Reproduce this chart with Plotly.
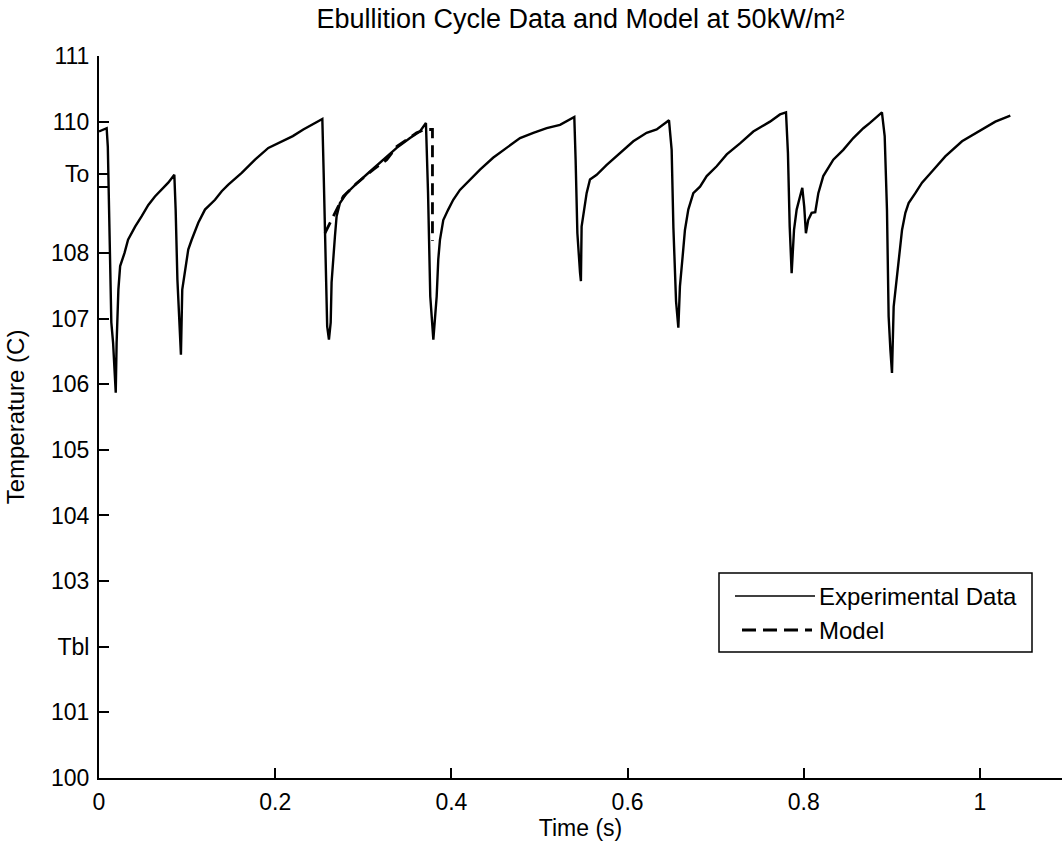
import plotly.graph_objects as go

# ---------------- data ----------------
exp_time = [0.000, 0.0087, 0.0100, 0.0120, 0.0140, 0.0160, 0.0180, 0.0190, 0.0200, 0.0220,
            0.0240, 0.0290, 0.0330, 0.0410, 0.0485, 0.0560, 0.0635, 0.0711, 0.0786, 0.0855,
            0.0870, 0.0890, 0.0930, 0.0945, 0.0976, 0.1013, 0.1052, 0.1127, 0.1203, 0.1317,
            0.1393, 0.1468, 0.1620, 0.1771, 0.1922, 0.2075, 0.2200, 0.2319, 0.2471, 0.2535,
            0.2550, 0.2575, 0.2590, 0.2610, 0.2630, 0.2640, 0.2658, 0.2678, 0.2697, 0.2735,
            0.2811, 0.2925, 0.3076, 0.3227, 0.3379, 0.3530, 0.3643, 0.3711,
            0.3735, 0.3760, 0.3780, 0.3795, 0.3833, 0.3851, 0.3870, 0.3908, 0.3964, 0.4021,
            0.4097, 0.4211, 0.4325, 0.4473, 0.4628, 0.4779, 0.4930, 0.5082, 0.5233, 0.5395,
            0.5410, 0.5430, 0.5460, 0.5470, 0.5478, 0.5505, 0.5535, 0.5573, 0.5649, 0.5763,
            0.5914, 0.6065, 0.6216, 0.6330, 0.6470,
            0.6500, 0.6520, 0.6550, 0.6576, 0.6594, 0.6625, 0.6651, 0.6689, 0.6746, 0.6822,
            0.6898, 0.7011, 0.7125, 0.7276, 0.7427, 0.7616, 0.7730, 0.7798,
            0.7820, 0.7840, 0.7862, 0.7889, 0.7919, 0.7957, 0.7983, 0.8005, 0.8024, 0.8050,
            0.8089, 0.8130, 0.8165, 0.8221, 0.8335, 0.8448, 0.8562, 0.8676, 0.8751, 0.8887,
            0.8918, 0.8944, 0.8963, 0.8983, 0.9001, 0.9020, 0.9058, 0.9085, 0.9115, 0.9153,
            0.9190, 0.9266, 0.9342, 0.9455, 0.9606, 0.9796, 0.9985, 1.0174, 1.0344]
exp_temp = [109.85, 109.90, 109.62, 108.43, 106.94, 106.63, 106.11, 105.87, 106.63, 107.44,
            107.80, 108.00, 108.20, 108.40, 108.56, 108.73, 108.86, 108.96, 109.07, 109.19,
            108.66, 107.59, 106.45, 107.44, 107.70, 108.05, 108.20, 108.46, 108.66, 108.81,
            108.94, 109.04, 109.22, 109.42, 109.60, 109.70, 109.78, 109.88, 110.00, 110.04,
            109.22, 107.79, 106.88, 106.68, 106.94, 107.55, 107.95, 108.25, 108.56, 108.76,
            108.91, 109.06, 109.24, 109.42, 109.60, 109.75, 109.85, 109.98,
            108.91, 107.34, 106.94, 106.68, 107.34, 107.90, 108.20, 108.50, 108.66, 108.81,
            108.96, 109.12, 109.27, 109.45, 109.60, 109.75, 109.83, 109.90, 109.95, 110.07,
            109.42, 108.30, 107.70, 107.57, 108.40, 108.66, 108.91, 109.12, 109.19, 109.34,
            109.52, 109.70, 109.83, 109.88, 110.02,
            109.57, 108.38, 107.26, 106.86, 107.49, 107.95, 108.35, 108.66, 108.91, 109.01,
            109.17, 109.32, 109.50, 109.67, 109.85, 110.00, 110.11, 110.14,
            109.52, 108.40, 107.69, 108.35, 108.66, 108.86, 108.99, 108.70, 108.30, 108.50,
            108.61, 108.62, 108.91, 109.17, 109.42, 109.57, 109.75, 109.90, 109.98, 110.14,
            109.78, 108.66, 107.03, 106.52, 106.17, 107.18, 107.64, 108.00, 108.35, 108.61,
            108.76, 108.91, 109.07, 109.24, 109.47, 109.70, 109.85, 110.00, 110.09]

model_time = [0.2565, 0.2600, 0.2660, 0.2716, 0.2773, 0.2925, 0.3113, 0.3266, 0.3379,
              0.3493, 0.3606, 0.3700, 0.3785, 0.3785]
model_temp = [108.30, 108.40, 108.56, 108.71, 108.86, 109.06, 109.27, 109.42, 109.62,
              109.73, 109.83, 109.88, 109.88, 108.18]

x_tickvals = [0, 0.2, 0.4, 0.6, 0.8, 1.0]
x_ticktext = ["0", "0.2", "0.4", "0.6", "0.8", "1"]
y_tickvals = [100, 101, 102, 103, 104, 105, 106, 107, 108, 109.2, 110, 111]
y_ticktext = ["100", "101", "Tbl", "103", "104", "105", "106", "107", "108", "To", "110", "111"]
y_unlabelled_tick = 109

FONT = "Liberation Sans, Arial, Helvetica, sans-serif"

# ---------------- figure ----------------
fig = go.Figure()
fig.add_trace(go.Scatter(x=exp_time, y=exp_temp, mode="lines", name="Experimental Data",
                         line=dict(color="black", width=2.4), showlegend=False))
fig.add_trace(go.Scatter(x=model_time, y=model_temp, mode="lines", name="Model",
                         line=dict(color="black", width=2.8, dash="12px,7px"), showlegend=False))

L, R, T, B = 99, 0, 56, 68
W, H = 1062, 846
pw, ph = W - L - R, H - T - B

def px(xp):
    return (xp - L) / pw

def py(yp):
    return (H - B - yp) / ph

# manual MATLAB-like legend
fig.add_shape(type="rect", xref="paper", yref="paper",
              x0=px(719), x1=px(1032), y0=py(652), y1=py(573),
              line=dict(color="black", width=1.5), fillcolor="white")
fig.add_shape(type="line", xref="paper", yref="paper",
              x0=px(735), x1=px(815), y0=py(596), y1=py(596),
              line=dict(color="black", width=1.5))
fig.add_shape(type="line", xref="paper", yref="paper",
              x0=px(742), x1=px(812), y0=py(630), y1=py(630),
              line=dict(color="black", width=3, dash="14px,7px"))
fig.add_annotation(xref="paper", yref="paper", x=px(817), y=py(596), xanchor="left",
                   yanchor="middle", text="Experimental Data", showarrow=False,
                   font=dict(family=FONT, size=24, color="black"))
fig.add_annotation(xref="paper", yref="paper", x=px(817), y=py(630), xanchor="left",
                   yanchor="middle", text="Model", showarrow=False,
                   font=dict(family=FONT, size=24, color="black"))

fig.update_layout(
    width=W, height=H,
    margin=dict(l=L, r=R, t=T, b=B),
    paper_bgcolor="white", plot_bgcolor="white",
    font=dict(family=FONT, color="black"),
    title=dict(text="Ebullition Cycle Data and Model at 50kW/m²",
               x=0.5, xref="paper", xanchor="center",
               y=1 - 19 / H, yref="container", yanchor="middle",
               font=dict(family=FONT, size=27, color="black")),
    xaxis=dict(range=[0, (W - L - R) / 881.0], tickvals=x_tickvals, ticktext=x_ticktext,
               ticks="inside", ticklen=10, tickwidth=1.5, tickcolor="black",
               showline=True, linecolor="black", linewidth=2, showgrid=False,
               zeroline=False, tickfont=dict(family=FONT, size=23, color="black"),
               ticklabelstandoff=2,
               title=dict(text="Time (s)", standoff=2,
                          font=dict(family=FONT, size=23, color="black"))),
    yaxis=dict(range=[100, 111], tickvals=y_tickvals, ticktext=y_ticktext,
               ticks="inside", ticklen=10, tickwidth=1.5, tickcolor="black",
               showline=True, linecolor="black", linewidth=2, showgrid=False,
               zeroline=False, tickfont=dict(family=FONT, size=23, color="black"),
               ticklabelstandoff=3,
               title=dict(text="Temperature (C)", standoff=20,
                          font=dict(family=FONT, size=24, color="black")),
               minor=dict(tick0=y_unlabelled_tick, dtick=10, ticks="inside", ticklen=10,
                          tickwidth=1.5, tickcolor="black", showgrid=False)),
)

fig.write_html("out.html")
